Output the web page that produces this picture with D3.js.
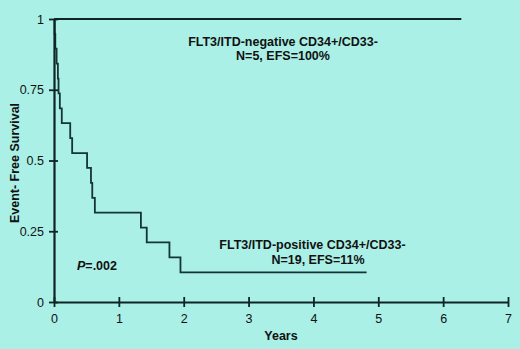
<!DOCTYPE html>
<html><head><meta charset="utf-8">
<script src="https://cdn.jsdelivr.net/npm/d3@7"></script>
<style>html,body{margin:0;padding:0;background:#aaf0e6;}svg{display:block;font-family:Arial,"Liberation Sans",sans-serif;}</style>
</head><body>
<svg id="c" width="520" height="349"></svg>
<script>
// Data
const negTimes = [0, 6.28];
const negSurv = [1, 1];
const posTimes = [0, 0.01, 0.02, 0.04, 0.06, 0.07, 0.09, 0.12, 0.25, 0.28, 0.51, 0.57, 0.59, 0.63, 1.34, 1.43, 1.78, 1.95, 4.82];
const posSurv  = [1, 0.947, 0.895, 0.842, 0.789, 0.737, 0.684, 0.632, 0.579, 0.526, 0.474, 0.421, 0.368, 0.316, 0.263, 0.211, 0.158, 0.105, 0.105];
const xTicks = [0, 1, 2, 3, 4, 5, 6, 7];
const yTicks = [0, 0.25, 0.5, 0.75, 1];
const yTickLabels = ["0", "0.25", "0.5", "0.75", "1"];

const svg = d3.select("#c");
svg.append("rect").attr("width",520).attr("height",349).attr("fill","#aaf0e6");
const x = d3.scaleLinear().domain([0,7]).range([54,508]);
const y = d3.scaleLinear().domain([0,1]).range([302,19]);
const ink = "#0f2424";

const line = d3.line().x(d=>x(d[0])).y(d=>y(d[1])).curve(d3.curveStepAfter);
svg.append("path").datum(negTimes.map((t,i)=>[t,negSurv[i]]))
  .attr("d",line).attr("fill","none").attr("stroke",ink).attr("stroke-width",2);
svg.append("path").datum(posTimes.map((t,i)=>[t,posSurv[i]]))
  .attr("d",line).attr("fill","none").attr("stroke","#153535").attr("stroke-width",1.8);

// axes
const xa = svg.append("g").attr("transform","translate(0,302)")
  .call(d3.axisBottom(x).tickValues(xTicks).tickFormat(d3.format("d")).tickSize(0).tickPadding(12));
xa.select(".domain").attr("stroke",ink).attr("stroke-width",2.2);
xa.selectAll(".tick").append("line").attr("y1",-5).attr("y2",5).attr("stroke",ink).attr("stroke-width",1.8);
xa.selectAll("text").attr("font-size",12.5).attr("fill","#111").attr("font-family","Arial,'Liberation Sans',sans-serif");

const ya = svg.append("g").attr("transform","translate(54,0)")
  .call(d3.axisLeft(y).tickValues(yTicks).tickFormat((d,i)=>yTickLabels[i]).tickSize(0).tickPadding(10));
ya.select(".domain").attr("stroke",ink).attr("stroke-width",2.2);
ya.selectAll(".tick").append("line").attr("x1",-5).attr("x2",4).attr("stroke",ink).attr("stroke-width",1.8);
ya.selectAll("text").attr("font-size",12.5).attr("fill","#111").attr("font-family","Arial,'Liberation Sans',sans-serif");

const bold = (t, xx, yy, anchor="middle") => svg.append("text").attr("x",xx).attr("y",yy)
  .attr("text-anchor",anchor).attr("font-size",12.5).attr("font-weight","bold").attr("fill","#111").text(t);

bold("FLT3/ITD-negative CD34+/CD33-", 283, 46);
bold("N=5, EFS=100%", 283, 60);
bold("FLT3/ITD-positive CD34+/CD33-", 312.5, 249);
bold("N=19, EFS=11%", 318, 264);
bold("Years", 281, 340);

const p = svg.append("text").attr("x",77).attr("y",270).attr("font-size",12.5).attr("font-weight","bold").attr("fill","#111");
p.append("tspan").attr("font-style","italic").text("P");
p.append("tspan").text("=.002");

svg.append("text").attr("transform","translate(19,163) rotate(-90)").attr("text-anchor","middle")
  .attr("font-size",12.5).attr("font-weight","bold").attr("fill","#111").text("Event- Free Survival");
</script>
</body></html>
